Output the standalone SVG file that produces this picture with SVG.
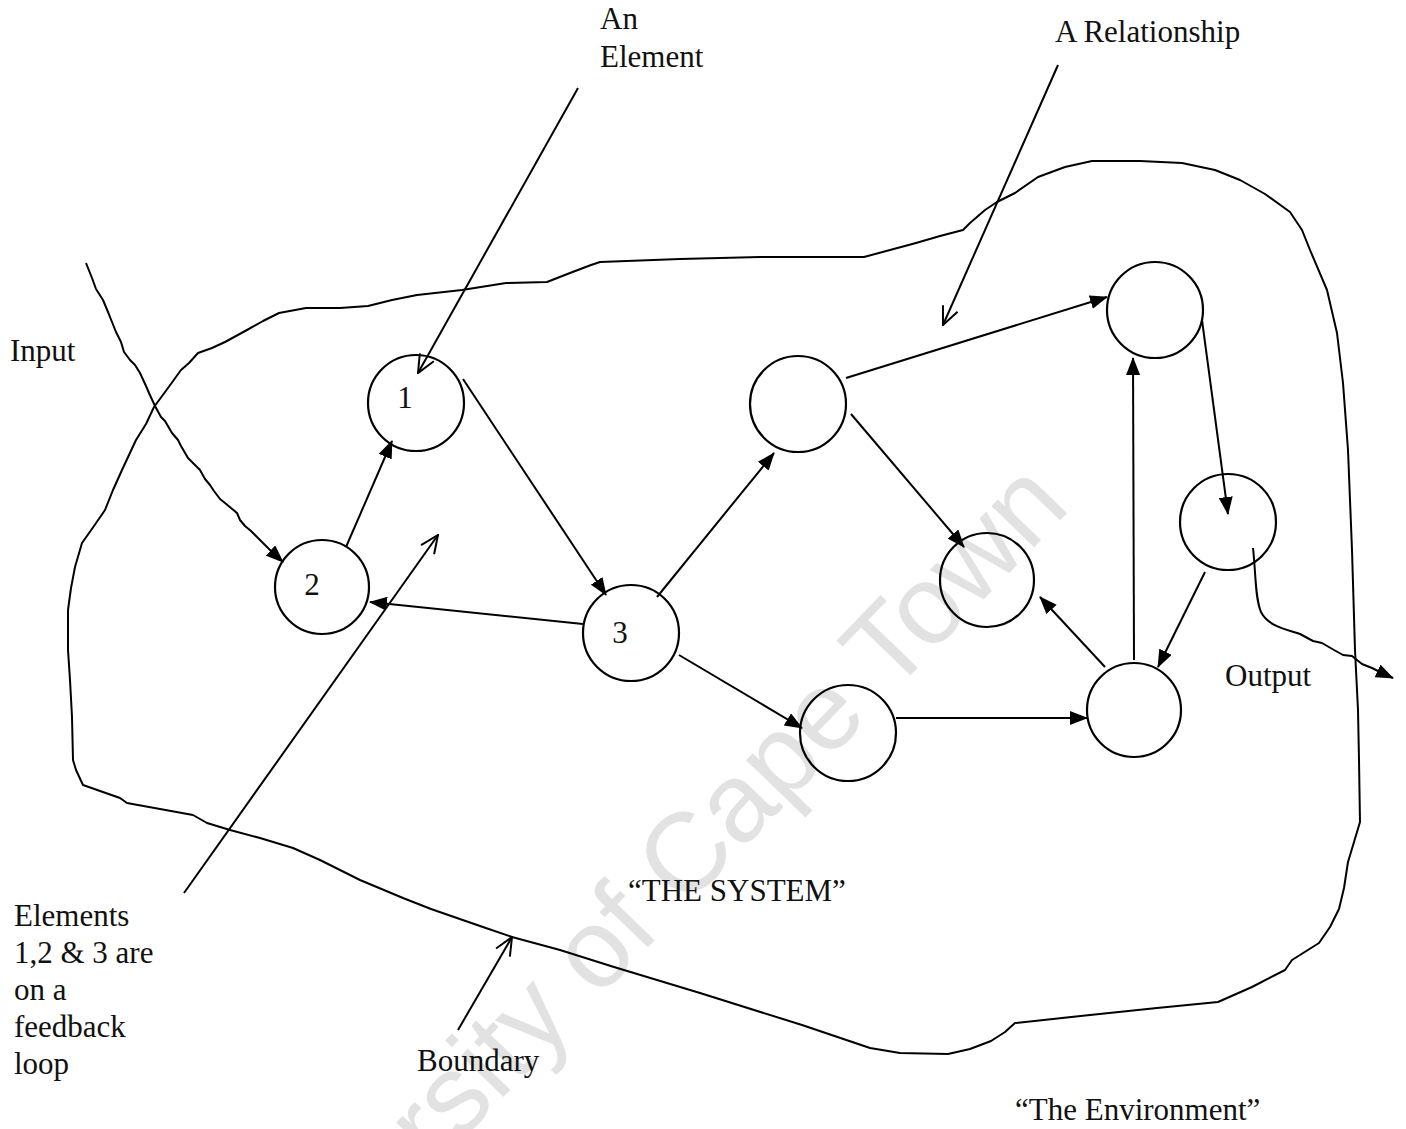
<svg xmlns="http://www.w3.org/2000/svg" width="1406" height="1129" viewBox="0 0 1406 1129">
  <style>
    .bg { fill: #ffffff; }
    .node circle { fill: none; stroke: #000; stroke-width: 2.2; }
    .label { font-family: "Liberation Serif", "Times New Roman", serif; font-size: 31px; fill: #111; }
    .num { font-family: "Liberation Serif", "Times New Roman", serif; font-size: 31px; fill: #111; text-anchor: middle; }
    .edge { fill: none; stroke: #000; stroke-width: 2; marker-end: url(#solid); }
    .pointer { fill: none; stroke: #000; stroke-width: 2; marker-end: url(#open); }
    .boundary { fill: none; stroke: #000; stroke-width: 2; stroke-linejoin: round; }
    .wave { fill: none; stroke: #000; stroke-width: 2; stroke-linejoin: round; marker-end: url(#solid); }
    .mark { font-family: "Liberation Sans", Arial, sans-serif; font-size: 112px; fill: #e2e2e2; }
  </style>
  <defs>
    <marker id="solid" viewBox="0 0 18 14" refX="17" refY="7" markerWidth="18" markerHeight="14" markerUnits="userSpaceOnUse" orient="auto">
      <path d="M0,0 L18,7 L0,14 z" fill="#000"/>
    </marker>
    <marker id="open" viewBox="0 0 20 18" refX="19" refY="9" markerWidth="20" markerHeight="18" markerUnits="userSpaceOnUse" orient="auto">
      <path d="M1,1 L19,9 L1,17" fill="none" stroke="#000" stroke-width="2"/>
    </marker>
  </defs>

  <rect class="bg" x="0" y="0" width="1406" height="1129"/>

  <!-- faint watermark across the page -->
  <text class="mark" x="1072" y="508" text-anchor="end" transform="rotate(-46 1072 508)">University of Cape Town</text>

  <!-- system boundary -->
  <path class="boundary" d="M82,543 L94,526 L105,510 L113,490 L122,470 L136,440 L146,424 L154,407 L168,388 L181,370 L189,363 L198,353 L212,348 L225,342 L247,330 L263,321 L279,313 L306,308 L340,308 L368,306 L392,300 L417,295 L462,290 L506,283 L547,282 L570,273 L591,265 L600,262 L680,259 L760,257 L864,257 L890,250 L916,243 L940,236 L963,230 L970,223 L985,210 L997,202 L1015,193 L1038,177 L1065,167 L1092,161 L1140,161 L1182,163 L1215,170 L1240,180 L1265,194 L1290,212 L1302,230 L1310,250 L1327,290 L1337,333 L1343,383 L1348,450 L1352,550 L1355,650 L1358,710 L1359,760 L1360,822 L1351,852 L1348,862 L1344,888 L1339,909 L1330,927 L1319,943 L1292,960 L1285,970 L1252,987 L1218,1002 L1157,1008 L1090,1015 L1015,1023 L1005,1032 L991,1041 L970,1049 L948,1054 L900,1053 L870,1048 L802,1025 L700,993 L614,967 L560,950 L512,937 L480,926 L431,909 L403,898 L360,880 L320,860 L293,848 L260,838 L230,830 L207,823 L193,815 L160,809 L127,803 L120,798 L83,785 L76,770 L73,760 L72,717 L70,680 L68,650 L68,610 L71,588 L75,567 Z"/>

  <!-- elements -->
  <g id="node-1" class="node"><circle cx="416" cy="403" r="48"/><text class="num" x="405" y="408">1</text></g>
  <g id="node-2" class="node"><circle cx="322" cy="587" r="47"/><text class="num" x="312" y="595">2</text></g>
  <g id="node-3" class="node"><circle cx="631" cy="633" r="48"/><text class="num" x="620" y="643">3</text></g>
  <g id="node-a" class="node"><circle cx="798" cy="404" r="48"/></g>
  <g id="node-b" class="node"><circle cx="987" cy="580" r="47"/></g>
  <g id="node-c" class="node"><circle cx="848" cy="733" r="48"/></g>
  <g id="node-d" class="node"><circle cx="1155" cy="310" r="48"/></g>
  <g id="node-e" class="node"><circle cx="1228" cy="522" r="48"/></g>
  <g id="node-f" class="node"><circle cx="1134" cy="710" r="47"/></g>

  <!-- relationships -->
  <g id="connectors">
    <path class="edge" d="M346,547 L392,441"/>
    <path class="edge" d="M463,379 L606,595"/>
    <path class="edge" d="M583,624 L370,602"/>
    <path class="edge" d="M657,597 L774,453"/>
    <path class="edge" d="M679,655 L802,728"/>
    <path class="edge" d="M896,718 L1087,718"/>
    <path class="edge" d="M851,414 L964,547"/>
    <path class="edge" d="M1105,667 L1040,597"/>
    <path class="edge" d="M846,378 L1107,297"/>
    <path class="edge" d="M1134,660 L1133,358"/>
    <path class="edge" d="M1202,320 L1228,514"/>
    <path class="edge" d="M1205,572 L1158,667"/>

    <!-- input and output flows -->
    <path class="wave" d="M86,263 L92,278 L96,289 L103,300 L108,312 L110,317 L116,332 L121,342 L124,352 L130,360 L135,365 L140,373 L146,386 L149,393 L155,406 L161,417 L165,421 L172,433 L178,440 L181,446 L188,458 L194,464 L200,470 L205,479 L210,485 L214,491 L220,499 L225,503 L231,508 L237,513 L240,520 L245,526 L251,531 L257,537 L265,545 L271,551 L283,562"/>
    <path class="wave" d="M1253,548 C1256,575 1255,598 1261,612 C1268,626 1285,629 1300,634 L1313,641 L1322,643 L1334,650 L1343,655 L1352,656 L1362,664 L1372,668 L1382,673 L1393,678"/>

    <!-- callout pointers -->
    <path class="pointer" d="M578,88 L418,373"/>
    <path class="pointer" d="M1058,65 L943,325"/>
    <path class="pointer" d="M184,893 L438,535"/>
    <path class="pointer" d="M458,1030 L512,937"/>
  </g>

  <!-- labels -->
  <text class="label" x="600" y="29">An</text>
  <text class="label" x="600" y="67">Element</text>
  <text class="label" x="1055" y="42">A Relationship</text>
  <text class="label" x="10" y="361">Input</text>
  <text class="label" x="1225" y="686">Output</text>
  <text class="label" x="628" y="901">“THE SYSTEM”</text>
  <text class="label" x="14" y="926">Elements</text>
  <text class="label" x="14" y="963">1,2 &amp; 3 are</text>
  <text class="label" x="14" y="1000">on a</text>
  <text class="label" x="14" y="1037">feedback</text>
  <text class="label" x="14" y="1074">loop</text>
  <text class="label" x="417" y="1071">Boundary</text>
  <text class="label" x="1015" y="1120">“The Environment”</text>
</svg>
